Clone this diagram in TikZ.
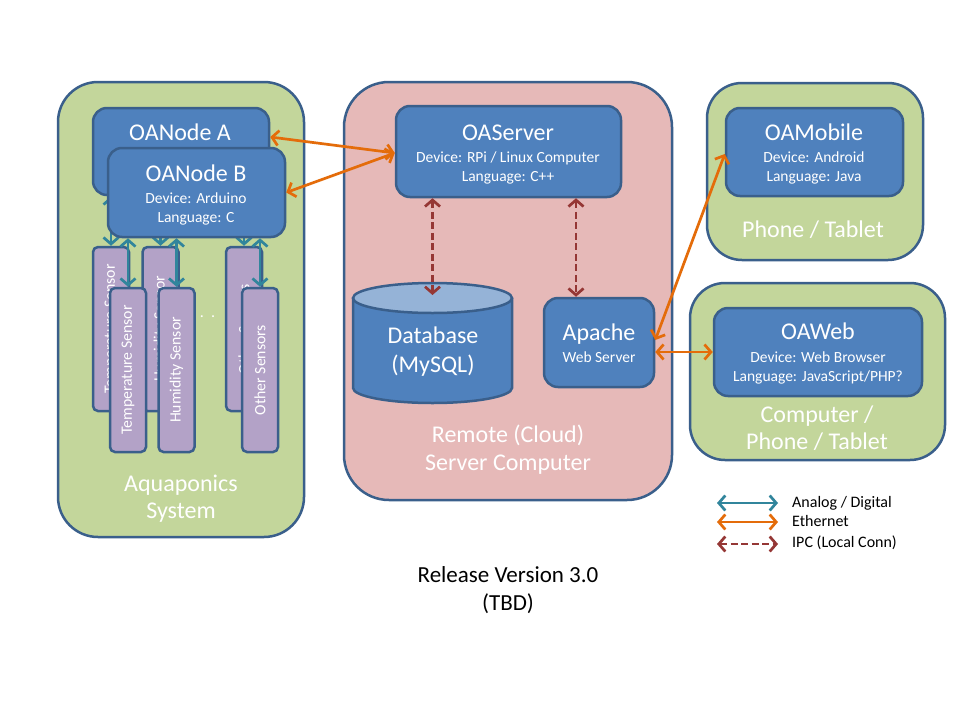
\documentclass[tikz,border=0pt]{standalone}
\usepackage{fontspec}
\setmainfont{Carlito}
\usetikzlibrary{arrows.meta,shapes.geometric,calc}
\definecolor{gfill}{HTML}{C3D69B}
\definecolor{pfill}{HTML}{E6B9B8}
\definecolor{bord}{HTML}{3A5F8B}
\definecolor{bfill}{HTML}{4F81BD}
\definecolor{dtop}{HTML}{95B3D7}
\definecolor{sfill}{HTML}{B3A2C7}
\definecolor{ateal}{HTML}{31859C}
\definecolor{eorange}{HTML}{E46C0A}
\definecolor{ired}{HTML}{953735}
\begin{document}
\begin{tikzpicture}[x=1pt,y=-1pt,
  panel/.style={draw=bord, line width=2.5pt, inner sep=0pt},
  box/.style={draw=bord, line width=2.5pt, fill=bfill, rounded corners=14pt, inner sep=0pt},
  sens/.style={draw=bord, line width=2.5pt, fill=sfill, rounded corners=5pt, minimum width=36pt, minimum height=164pt, inner sep=0pt},
  ttl/.style={text=white, anchor=base, inner sep=0pt, font=\fontsize{24}{28}\selectfont},
  sub/.style={text=white, anchor=base, inner sep=0pt, font=\fontsize{15.5}{18}\selectfont},
  stxt/.style={text=white, rotate=90, inner sep=0pt, font=\fontsize{15.8}{18}\selectfont},
  tipb/.tip={Straight Barb[length=6.5pt,width=15pt]},
  eth/.style={draw=eorange, line width=2.7pt, tipb-tipb},
  ana/.style={draw=ateal, line width=2.7pt, tipb-tipb},
  ipc/.style={draw=ired, line width=2.7pt, dash pattern=on 7pt off 3.5pt, tipb-tipb},
  leg/.style={anchor=base west, inner sep=0pt, font=\fontsize{16}{18}\selectfont}]
\useasboundingbox (0,0) rectangle (960,720);
\fill[white] (0,0) rectangle (960,720);

% panels
\node[panel, fill=gfill, rounded corners=40pt, minimum width=246pt, minimum height=455pt] (aqua) at (181,309.5) {};
\node[panel, fill=pfill, rounded corners=45pt, minimum width=328pt, minimum height=418pt] (cloud) at (508,291) {};
\node[panel, fill=gfill, rounded corners=35pt, minimum width=216pt, minimum height=177pt] (phone) at (815,171.5) {};
\node[panel, fill=gfill, rounded corners=35pt, minimum width=255pt, minimum height=177pt] (comp) at (817.5,371.5) {};

% panel labels
\node[ttl] (laqua1) at (181,491) {Aquaponics};
\node[ttl] (laqua2) at (181,518) {System};
\node[ttl] (lcloud1) at (508,442) {Remote (Cloud)};
\node[ttl] (lcloud2) at (508,470) {Server Computer};
\node[ttl] (lphone) at (813,237) {Phone / Tablet};
\node[ttl] (lcomp1) at (817,422) {Computer /};
\node[ttl] (lcomp2) at (817,449) {Phone / Tablet};

% OANode A and back sensors
\node[box, minimum width=176pt, minimum height=87pt] (nA) at (181,151.5) {};
\node[ttl] (tA) at (180,140) {OANode A};
\node[sens] (b1) at (111,329) {};
\node[sens] (b2) at (160.5,329) {};
\node[sens] (b3) at (244,329) {};
\draw[ana] (nA.south -| b1.north) -- (b1.north);
\draw[ana] (nA.south -| b2.north) -- (b2.north);
\draw[ana] (nA.south -| b3.north) -- (b3.north);
\node[stxt] (tb1) at (b1.center) {Temperature Sensor};
\node[stxt] (tb2) at (b2.center) {Humidity Sensor};
\node[stxt] (tb3) at (b3.center) {Other Sensors};
\node[text=white, anchor=base, inner sep=0pt, font=\fontsize{16}{18}\selectfont] (dots) at (202,317) {.\hspace{7pt}.\hspace{7pt}.};

% OANode B and front sensors
\node[box, minimum width=177pt, minimum height=89pt] (nB) at (196.5,192.5) {};
\node[ttl] (tB) at (196,181) {OANode B};
\node[sub] (tB2) at (196,203) {Device: Arduino};
\node[sub] (tB3) at (196,222) {Language: C};
\node[sens] (s1) at (128,370) {};
\node[sens] (s2) at (176.5,370) {};
\node[sens] (s3) at (260,370) {};
\node[stxt] (ts1) at (s1.center) {Temperature Sensor};
\node[stxt] (ts2) at (s2.center) {Humidity Sensor};
\node[stxt] (ts3) at (s3.center) {Other Sensors};
\draw[ana] (nB.south -| s1.north) -- (s1.north);
\draw[ana] (nB.south -| s2.north) -- (s2.north);
\draw[ana] (nB.south -| s3.north) -- (s3.north);

% Server
\node[box, minimum width=225pt, minimum height=91pt] (srv) at (508.5,151.5) {};
\node[ttl] (tsrv) at (508,140) {OAServer};
\node[sub] (tsrv2) at (508,162) {Device: RPi / Linux Computer};
\node[sub] (tsrv3) at (508,181) {Language: C++};

% Database
\draw[bord, line width=2.5pt, fill=bfill] (353,298) -- (353,388) arc[start angle=180, end angle=0, x radius=79.5, y radius=15] -- (512,298);
\node[ellipse, draw=bord, line width=2.5pt, fill=dtop, minimum width=159pt, minimum height=30pt, inner sep=0pt] (dbtop) at (432.5,298) {};
\node[ttl] (tdb1) at (433,343) {Database};
\node[ttl] (tdb2) at (433,372) {(MySQL)};

% Apache
\node[box, minimum width=110pt, minimum height=89pt] (apa) at (599,342.5) {};
\node[ttl] (tapa) at (599,340) {Apache};
\node[sub] (tapa2) at (599,362) {Web Server};

% Mobile
\node[box, minimum width=177pt, minimum height=88pt] (mob) at (814.5,152) {};
\node[ttl] (tmob) at (814,140) {OAMobile};
\node[sub] (tmob2) at (814,162) {Device: Android};
\node[sub] (tmob3) at (814,181) {Language: Java};

% Web
\node[box, minimum width=208pt, minimum height=88pt] (web) at (818,352) {};
\node[ttl] (tweb) at (818,339) {OAWeb};
\node[sub] (tweb2) at (818,362) {Device: Web Browser};
\node[sub] (tweb3) at (818,381) {Language: JavaScript/PHP?};

% connectors
\draw[eth] ([yshift=14.5pt]nA.east) -- ([yshift=-1.5pt]srv.west);
\draw[eth] (nB.east) -- ([yshift=-1.5pt]srv.west);
\draw[eth] ([yshift=2.5pt]apa.east) -- ([yshift=-2pt]mob.west);
\draw[eth] (web.west -| apa.east) -- (web.west);
\coordinate (dbt) at ([yshift=3pt]dbtop.center);
\draw[ipc] (dbt |- srv.south) -- (dbt);
\coordinate (apt) at ([xshift=-23pt]apa.north);
\draw[ipc] (apt |- srv.south) -- (apt);

% legend
\coordinate (l1a) at (717,503); \coordinate (l1b) at (778,503);
\coordinate (l2a) at (717,522); \coordinate (l2b) at (778,522);
\coordinate (l3a) at (717,544); \coordinate (l3b) at (778,544);
\draw[ana] (l1a) -- (l1b);
\draw[eth] (l2a) -- (l2b);
\draw[ipc] (l3a) -- (l3b);
\node[leg] (lg1) at (792,507) {Analog / Digital};
\node[leg] (lg2) at (792,526) {Ethernet};
\node[leg] (lg3) at (792,547) {IPC (Local Conn)};

% release
\node[anchor=base, inner sep=0pt, font=\fontsize{23}{26}\selectfont] (rel1) at (508,582) {Release Version 3.0};
\node[anchor=base, inner sep=0pt, font=\fontsize{23}{26}\selectfont] (rel2) at (508,610) {(TBD)};
\end{tikzpicture}
\end{document}
